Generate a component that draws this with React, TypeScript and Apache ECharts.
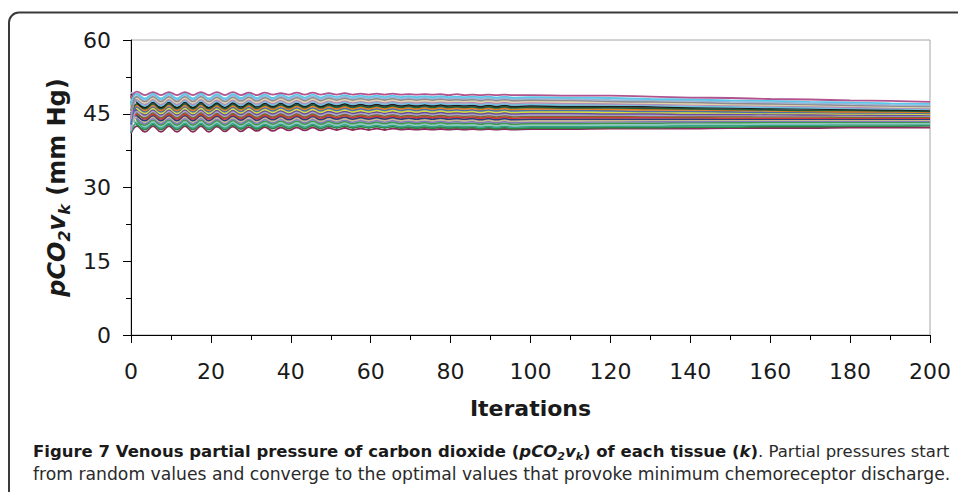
import React, { useEffect, useRef } from "react";
import * as echarts from "echarts";

// Iteration at which each value was read (peaks / troughs of the 4-iteration oscillation, then coarse)
const ITERATIONS = [
  0, 1.5, 3.5, 5.5, 7.5, 9.5, 11.5, 13.5, 15.5, 17.5, 19.5, 21.5, 23.5, 25.5, 27.5, 29.5, 31.5, 33.5, 35.5, 37.5, 39.5,
  41.5, 43.5, 45.5, 47.5, 49.5, 51.5, 53.5, 55.5, 57.5, 59.5, 61.5, 63.5, 65.5, 67.5, 69.5, 71.5, 73.5, 75.5, 77.5,
  79.5, 81.5, 83.5, 85.5, 87.5, 89.5, 91.5, 93.5, 95.5,
  100, 110, 120, 130, 140, 150, 160, 170, 180, 190, 200,
];

const X_TICKS = [0, 20, 40, 60, 80, 100, 120, 140, 160, 180, 200];
const Y_TICKS = [0, 15, 30, 45, 60];

const TISSUE_COLORS = [
  "#8E2A5E", "#2E8540", "#34A38C", "#8FC7BE", "#3E9A48", "#8478C0", "#C8B98C", "#2B3C7C",
  "#D2373C", "#7A6A2C", "#A9A2CE", "#6A4A9C", "#D4DE3C", "#4A6FA5", "#E87A22", "#1F5F3A",
  "#1E1E1E", "#6CC2E0", "#B28DB8", "#E3D3A8", "#8C8C8C", "#9DB4D8", "#5BC8E8", "#B0538E",
];

const T00 = [41.0,
  42.5,41.3,42.5,41.3,42.5,41.3,42.5,41.3,42.5,41.3,42.4,41.4,42.4,41.4,42.3,41.5,42.3,41.5,42.2,41.6,
  42.2,41.6,42.2,41.6,42.1,41.7,42.1,41.7,42.0,41.7,42.0,41.7,42.0,41.8,41.9,41.8,41.9,41.8,41.9,41.8,41.9,41.8,41.9,41.8,41.9,41.8,41.9,41.8,
  41.9,41.9,42.0,42.0,42.0,42.1,42.1,42.1,42.2,42.2,42.2];
const T01 = [44.6,
  42.8,41.8,42.8,41.8,42.8,41.8,42.8,41.8,42.8,41.8,42.7,41.8,42.7,41.9,42.7,41.9,42.6,42.0,42.6,42.0,
  42.6,42.0,42.6,42.0,42.5,42.1,42.5,42.1,42.4,42.1,42.4,42.1,42.4,42.1,42.3,42.1,42.3,42.1,42.3,42.1,42.2,42.1,42.2,42.0,42.2,42.0,42.2,42.0,
  42.1,42.1,42.2,42.2,42.3,42.3,42.4,42.4,42.5,42.5,42.6];
const T02 = [41.2,
  43.1,42.1,43.1,42.1,43.1,42.1,43.1,42.1,43.1,42.1,43.0,42.1,43.0,42.2,43.0,42.2,42.9,42.3,42.9,42.3,
  42.9,42.3,42.9,42.3,42.8,42.4,42.8,42.4,42.7,42.4,42.7,42.4,42.7,42.4,42.6,42.4,42.6,42.4,42.6,42.4,42.5,42.4,42.5,42.3,42.5,42.3,42.5,42.3,
  42.4,42.4,42.5,42.5,42.6,42.6,42.7,42.7,42.8,42.8,42.8];
const T03 = [43.5,
  43.4,42.4,43.4,42.4,43.4,42.4,43.4,42.4,43.4,42.4,43.3,42.4,43.3,42.5,43.3,42.5,43.2,42.6,43.2,42.6,
  43.2,42.6,43.2,42.6,43.1,42.7,43.1,42.7,43.0,42.7,43.0,42.7,43.0,42.7,42.9,42.7,42.9,42.7,42.9,42.7,42.8,42.7,42.8,42.6,42.8,42.6,42.8,42.6,
  42.7,42.7,42.8,42.8,42.9,42.9,43.0,43.0,43.0,43.0,43.0];
const T04 = [47.5,
  43.7,42.7,43.7,42.7,43.7,42.7,43.7,42.7,43.7,42.7,43.6,42.7,43.6,42.8,43.6,42.8,43.5,42.9,43.5,42.9,
  43.5,42.9,43.5,42.9,43.4,43.0,43.4,43.0,43.3,43.0,43.3,43.0,43.3,43.0,43.2,43.0,43.2,43.0,43.2,43.0,43.1,43.0,43.1,42.9,43.1,42.9,43.1,42.9,
  43.0,43.0,43.1,43.1,43.2,43.2,43.3,43.3,43.3,43.3,43.3];
const T05 = [45.4,
  44.0,43.0,44.0,43.0,44.0,43.0,44.0,43.0,44.0,43.0,43.9,43.0,43.9,43.1,43.9,43.1,43.8,43.2,43.8,43.2,
  43.8,43.2,43.8,43.2,43.7,43.3,43.7,43.3,43.6,43.3,43.6,43.3,43.6,43.3,43.5,43.3,43.5,43.3,43.5,43.3,43.4,43.3,43.4,43.2,43.4,43.2,43.4,43.2,
  43.3,43.3,43.4,43.4,43.4,43.5,43.5,43.5,43.5,43.5,43.5];
const T06 = [42.3,
  44.3,43.3,44.3,43.3,44.3,43.3,44.3,43.3,44.3,43.3,44.2,43.3,44.2,43.4,44.2,43.4,44.1,43.5,44.1,43.5,
  44.1,43.5,44.1,43.5,44.0,43.6,44.0,43.6,43.9,43.6,43.9,43.6,43.9,43.6,43.8,43.6,43.8,43.6,43.8,43.6,43.7,43.6,43.7,43.5,43.7,43.5,43.7,43.5,
  43.6,43.6,43.6,43.7,43.7,43.7,43.7,43.7,43.7,43.7,43.7];
const T07 = [46.0,
  44.6,43.6,44.6,43.6,44.6,43.6,44.6,43.6,44.6,43.6,44.5,43.6,44.5,43.7,44.5,43.7,44.4,43.8,44.4,43.8,
  44.4,43.8,44.4,43.8,44.3,43.9,44.3,43.9,44.2,43.9,44.2,43.9,44.2,43.9,44.1,43.9,44.1,43.9,44.1,43.9,44.0,43.9,44.0,43.8,44.0,43.8,44.0,43.8,
  43.9,43.9,43.9,43.9,43.9,43.9,43.9,43.9,43.9,43.9,43.9];
const T08 = [44.0,
  44.9,43.9,44.9,43.9,44.9,43.9,44.9,43.9,44.9,43.9,44.8,43.9,44.8,44.0,44.8,44.0,44.7,44.1,44.7,44.1,
  44.7,44.1,44.7,44.1,44.6,44.2,44.6,44.2,44.5,44.2,44.5,44.2,44.5,44.2,44.4,44.2,44.4,44.2,44.4,44.2,44.3,44.2,44.3,44.1,44.3,44.1,44.3,44.1,
  44.2,44.2,44.2,44.2,44.2,44.1,44.1,44.1,44.1,44.1,44.1];
const T09 = [48.7,
  45.2,44.2,45.2,44.2,45.2,44.2,45.2,44.2,45.2,44.2,45.1,44.2,45.1,44.3,45.1,44.3,45.0,44.4,45.0,44.4,
  45.0,44.4,45.0,44.4,44.9,44.5,44.9,44.5,44.8,44.5,44.8,44.5,44.8,44.5,44.7,44.5,44.7,44.5,44.7,44.5,44.6,44.5,44.6,44.4,44.6,44.4,44.6,44.4,
  44.5,44.5,44.5,44.5,44.4,44.4,44.4,44.4,44.3,44.3,44.3];
const T10 = [41.6,
  45.5,44.5,45.5,44.5,45.5,44.5,45.5,44.5,45.5,44.5,45.4,44.5,45.4,44.6,45.4,44.6,45.3,44.7,45.3,44.7,
  45.3,44.7,45.3,44.7,45.2,44.8,45.2,44.8,45.1,44.8,45.1,44.8,45.1,44.8,45.0,44.8,45.0,44.8,45.0,44.8,44.9,44.8,44.9,44.7,44.9,44.7,44.9,44.7,
  44.8,44.8,44.8,44.7,44.7,44.7,44.6,44.6,44.6,44.5,44.5];
const T11 = [45.1,
  45.8,44.8,45.8,44.8,45.8,44.8,45.8,44.8,45.8,44.8,45.7,44.8,45.7,44.9,45.7,44.9,45.6,45.0,45.6,45.0,
  45.6,45.0,45.6,45.0,45.5,45.1,45.5,45.1,45.4,45.1,45.4,45.1,45.4,45.1,45.3,45.1,45.3,45.1,45.3,45.1,45.2,45.1,45.2,45.0,45.2,45.0,45.2,45.0,
  45.1,45.1,45.0,45.0,44.9,44.9,44.9,44.8,44.8,44.7,44.7];
const T12 = [47.2,
  46.1,45.1,46.1,45.1,46.1,45.1,46.1,45.1,46.1,45.1,46.0,45.1,46.0,45.2,46.0,45.2,45.9,45.3,45.9,45.3,
  45.9,45.3,45.9,45.3,45.8,45.4,45.8,45.4,45.7,45.4,45.7,45.4,45.7,45.4,45.6,45.4,45.6,45.4,45.6,45.4,45.5,45.4,45.5,45.3,45.5,45.3,45.5,45.3,
  45.4,45.4,45.3,45.3,45.2,45.2,45.1,45.1,45.0,45.0,44.9];
const T13 = [42.8,
  46.4,45.4,46.4,45.4,46.4,45.4,46.4,45.4,46.4,45.4,46.3,45.4,46.3,45.5,46.3,45.5,46.2,45.6,46.2,45.6,
  46.2,45.6,46.2,45.6,46.1,45.7,46.1,45.7,46.0,45.7,46.0,45.7,46.0,45.7,45.9,45.7,45.9,45.7,45.9,45.7,45.8,45.7,45.8,45.6,45.8,45.6,45.8,45.6,
  45.7,45.7,45.6,45.5,45.5,45.4,45.3,45.3,45.2,45.2,45.1];
const T14 = [46.4,
  46.7,45.7,46.7,45.7,46.7,45.7,46.7,45.7,46.7,45.7,46.6,45.7,46.6,45.8,46.6,45.8,46.5,45.9,46.5,45.9,
  46.5,45.9,46.5,45.9,46.4,46.0,46.4,46.0,46.3,46.0,46.3,46.0,46.3,46.0,46.2,46.0,46.2,46.0,46.2,46.0,46.1,46.0,46.1,45.9,46.1,45.9,46.1,45.9,
  46.0,46.0,45.9,45.8,45.8,45.7,45.6,45.5,45.4,45.4,45.3];
const T15 = [44.7,
  47.0,46.0,47.0,46.0,47.0,46.0,47.0,46.0,47.0,46.0,46.9,46.0,46.9,46.1,46.9,46.1,46.8,46.2,46.8,46.2,
  46.8,46.2,46.8,46.2,46.7,46.3,46.7,46.3,46.6,46.3,46.6,46.3,46.6,46.3,46.5,46.3,46.5,46.3,46.5,46.3,46.4,46.3,46.4,46.2,46.4,46.2,46.4,46.2,
  46.3,46.2,46.2,46.1,46.0,45.9,45.8,45.7,45.7,45.6,45.5];
const T16 = [49.0,
  47.3,46.3,47.3,46.3,47.3,46.3,47.3,46.3,47.3,46.3,47.2,46.3,47.2,46.4,47.2,46.4,47.1,46.5,47.1,46.5,
  47.1,46.5,47.1,46.5,47.0,46.6,47.0,46.6,46.9,46.6,46.9,46.6,46.9,46.6,46.8,46.6,46.8,46.6,46.8,46.6,46.7,46.6,46.7,46.5,46.7,46.5,46.7,46.5,
  46.6,46.5,46.5,46.4,46.3,46.2,46.1,46.0,45.9,45.8,45.7];
const T17 = [47.8,
  47.6,46.6,47.6,46.6,47.6,46.6,47.6,46.6,47.6,46.6,47.5,46.6,47.5,46.7,47.5,46.7,47.4,46.8,47.4,46.8,
  47.4,46.8,47.4,46.8,47.3,46.9,47.3,46.9,47.2,46.9,47.2,46.9,47.2,46.9,47.1,46.9,47.1,46.9,47.1,46.9,47.0,46.9,47.0,46.8,47.0,46.8,47.0,46.8,
  46.9,46.8,46.8,46.7,46.5,46.4,46.3,46.2,46.1,46.0,45.9];
const T18 = [43.9,
  47.9,46.9,47.9,46.9,47.9,46.9,47.9,46.9,47.9,46.9,47.8,46.9,47.8,47.0,47.8,47.0,47.7,47.1,47.7,47.1,
  47.7,47.1,47.7,47.1,47.6,47.2,47.6,47.2,47.5,47.2,47.5,47.2,47.5,47.2,47.4,47.2,47.4,47.2,47.4,47.2,47.3,47.2,47.3,47.1,47.3,47.1,47.3,47.1,
  47.2,47.1,47.0,46.9,46.8,46.7,46.6,46.5,46.3,46.2,46.1];
const T19 = [48.4,
  48.2,47.2,48.2,47.2,48.2,47.2,48.2,47.2,48.2,47.2,48.1,47.2,48.1,47.3,48.1,47.3,48.0,47.4,48.0,47.4,
  48.0,47.4,48.0,47.4,47.9,47.5,47.9,47.5,47.8,47.5,47.8,47.5,47.8,47.5,47.7,47.5,47.7,47.5,47.7,47.5,47.6,47.5,47.6,47.4,47.6,47.4,47.6,47.4,
  47.5,47.4,47.3,47.2,47.0,46.9,46.8,46.7,46.6,46.4,46.3];
const T20 = [45.6,
  48.5,47.5,48.5,47.5,48.5,47.5,48.5,47.5,48.5,47.5,48.4,47.5,48.4,47.6,48.4,47.6,48.3,47.7,48.3,47.7,
  48.3,47.7,48.3,47.7,48.2,47.8,48.2,47.8,48.1,47.8,48.1,47.8,48.1,47.8,48.0,47.8,48.0,47.8,48.0,47.8,47.9,47.8,47.9,47.7,47.9,47.7,47.9,47.7,
  47.8,47.7,47.5,47.4,47.3,47.1,47.0,46.9,46.7,46.6,46.5];
const T21 = [49.3,
  48.8,47.8,48.8,47.8,48.8,47.8,48.8,47.8,48.8,47.8,48.7,47.8,48.7,47.9,48.7,47.9,48.6,48.0,48.6,48.0,
  48.6,48.0,48.6,48.0,48.5,48.1,48.5,48.1,48.4,48.1,48.4,48.1,48.4,48.1,48.3,48.1,48.3,48.1,48.3,48.1,48.2,48.1,48.2,48.0,48.2,48.0,48.2,48.0,
  48.1,48.0,47.8,47.7,47.6,47.4,47.3,47.1,47.0,46.8,46.7];
const T22 = [46.9,
  49.1,48.1,49.1,48.1,49.1,48.1,49.1,48.1,49.1,48.1,49.0,48.1,49.0,48.2,49.0,48.2,48.9,48.2,48.9,48.3,
  48.9,48.3,48.9,48.3,48.8,48.4,48.8,48.4,48.7,48.4,48.7,48.4,48.7,48.4,48.6,48.4,48.6,48.4,48.6,48.4,48.5,48.4,48.5,48.4,48.5,48.3,48.5,48.3,
  48.4,48.3,48.2,48.0,47.9,47.7,47.6,47.4,47.3,47.1,47.0];
const T23 = [48.2,
  49.5,48.8,49.4,48.8,49.4,48.8,49.4,48.8,49.4,48.8,49.4,48.8,49.4,48.8,49.3,48.8,49.3,48.9,49.2,48.9,
  49.3,48.9,49.3,48.9,49.2,48.9,49.2,48.9,49.1,48.9,49.1,48.9,49.1,48.9,49.0,48.9,49.0,48.9,49.0,48.8,49.0,48.8,48.9,48.8,48.9,48.8,48.9,48.8,
  48.8,48.7,48.7,48.5,48.3,48.2,48.0,47.9,47.7,47.6,47.4];

const TISSUES = [T00, T01, T02, T03, T04, T05, T06, T07, T08, T09, T10, T11, T12, T13, T14, T15, T16, T17, T18, T19, T20, T21, T22, T23];

const AXIS_FONT = "'DejaVu Sans', 'Liberation Sans', Arial, sans-serif";

export default function App() {
  const ref = useRef<HTMLDivElement | null>(null);

  useEffect(() => {
    document.body.style.margin = "0";
    if (!ref.current) return;
    const chart = echarts.init(ref.current, undefined, { renderer: "svg" });

    const series = TISSUES.map((vals, i) => ({
      name: "Tissue " + (i + 1),
      type: "line",
      data: ITERATIONS.map((x, j) => [x, vals[j]]),
      showSymbol: false,
      symbol: "none",
      smooth: 0.45,
      silent: true,
      lineStyle: { color: TISSUE_COLORS[i], width: 1.8 },
      itemStyle: { color: TISSUE_COLORS[i] },
      z: 2,
    }));

    chart.setOption({
      animation: false,
      backgroundColor: "#ffffff",
      grid: {
        left: 131,
        right: 28,
        top: 40,
        bottom: 157,
        show: true,
        borderColor: "#a6a6a6",
        borderWidth: 1,
        backgroundColor: "transparent",
      },
      xAxis: {
        type: "value",
        min: X_TICKS[0],
        max: X_TICKS[X_TICKS.length - 1],
        interval: 20,
        splitLine: { show: false },
        axisLine: { show: true, onZero: false, lineStyle: { color: "#000", width: 1 } },
        axisTick: { show: true, length: 8, lineStyle: { color: "#000", width: 1 } },
        minorTick: { show: true, splitNumber: 2, length: 5, lineStyle: { color: "#000", width: 1 } },
        axisLabel: { fontSize: 22, fontFamily: AXIS_FONT, color: "#1a1a1a", margin: 25 },
        name: "Iterations",
        nameLocation: "middle",
        nameGap: 62,
        nameTextStyle: { fontSize: 22, fontWeight: "bold", fontFamily: AXIS_FONT, color: "#1a1a1a" },
      },
      yAxis: {
        type: "value",
        min: Y_TICKS[0],
        max: Y_TICKS[Y_TICKS.length - 1],
        interval: 15,
        splitLine: { show: false },
        axisLine: { show: true, onZero: false, lineStyle: { color: "#000", width: 1 } },
        axisTick: { show: true, length: 8, lineStyle: { color: "#000", width: 1 } },
        minorTick: { show: true, splitNumber: 2, length: 5, lineStyle: { color: "#000", width: 1 } },
        axisLabel: { fontSize: 22, fontFamily: AXIS_FONT, color: "#1a1a1a", margin: 20 },
        name: "{bi|pCO}{sub|2}{bi|v}{subk|k}{b| (mm Hg)}",
        nameLocation: "middle",
        nameRotate: 90,
        nameGap: 58,
        nameTextStyle: {
          fontFamily: AXIS_FONT,
          color: "#1a1a1a",
          rich: {
            bi: { fontSize: 24, fontWeight: "bold", fontStyle: "italic", fontFamily: AXIS_FONT, color: "#1a1a1a", lineHeight: 30 },
            b: { fontSize: 24, fontWeight: "bold", fontFamily: AXIS_FONT, color: "#1a1a1a", lineHeight: 30 },
            sub: { fontSize: 16, fontWeight: "bold", fontStyle: "italic", fontFamily: AXIS_FONT, color: "#1a1a1a", verticalAlign: "bottom", lineHeight: 16 },
            subk: { fontSize: 16, fontWeight: "bold", fontStyle: "italic", fontFamily: AXIS_FONT, color: "#1a1a1a", verticalAlign: "bottom", lineHeight: 16 },
          },
        },
      },
      series,
      graphic: [
        {
          type: "rect",
          silent: true,
          shape: { x: 9, y: 12.5, width: 980, height: 500, r: [10, 0, 0, 0] },
          style: { fill: "none", stroke: "#3a3a3a", lineWidth: 2 },
          z: 10,
        },
        {
          type: "text",
          silent: true,
          x: 33,
          y: 451,
          style: {
            text:
              "{fb|Figure 7 Venous partial pressure of carbon dioxide (}{fbi|pCO}{fbs|2}{fbi|v}{fbs|k}{fb|) of each tissue (}{fbi|k}{fb|)}{fr|. Partial pressures start}",
            verticalAlign: "middle",
            align: "left",
            rich: {
              fb: { fontSize: 16.5, fontWeight: "bold", fontFamily: AXIS_FONT, fill: "#1a1a1a", lineHeight: 21 },
              fbi: { fontSize: 16.5, fontWeight: "bold", fontStyle: "italic", fontFamily: AXIS_FONT, fill: "#1a1a1a", lineHeight: 21 },
              fbs: { fontSize: 11, fontWeight: "bold", fontStyle: "italic", fontFamily: AXIS_FONT, fill: "#1a1a1a", verticalAlign: "bottom", lineHeight: 13 },
              fr: { fontSize: 16.5, fontFamily: AXIS_FONT, fill: "#2a2a2a", lineHeight: 21 },
            },
          },
          z: 10,
        },
        {
          type: "text",
          silent: true,
          x: 33,
          y: 474,
          style: {
            text: "from random values and converge to the optimal values that provoke minimum chemoreceptor discharge.",
            verticalAlign: "middle",
            align: "left",
            fontSize: 17.2,
            fontFamily: AXIS_FONT,
            fill: "#2a2a2a",
          },
          z: 10,
        },
      ],
    });

    return () => {
      chart.dispose();
    };
  }, []);

  return <div ref={ref} style={{ width: 958, height: 492 }} />;
}
